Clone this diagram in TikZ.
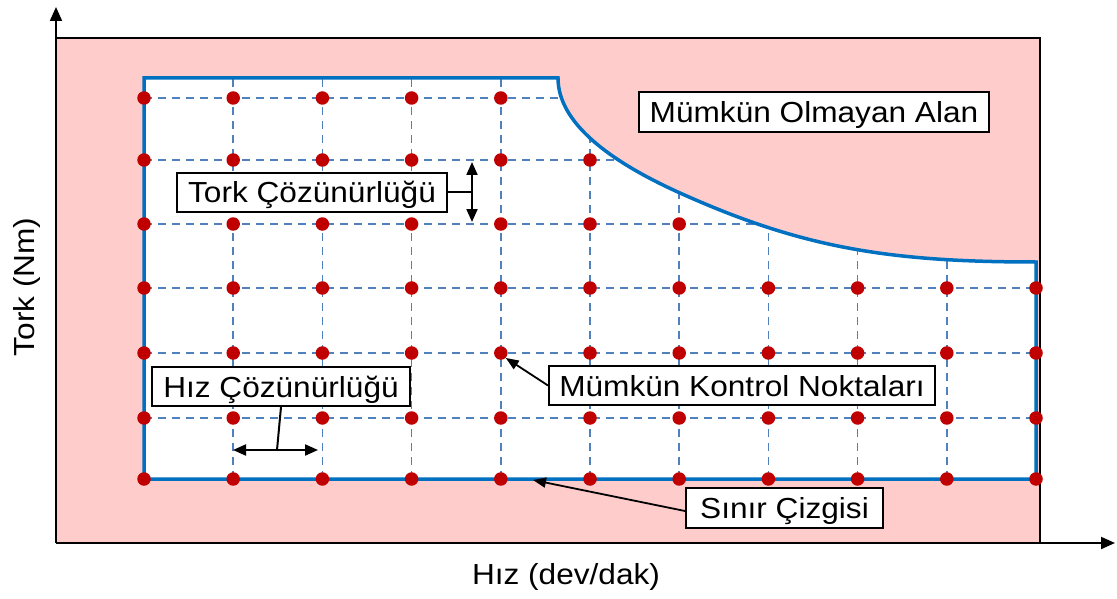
\documentclass[tikz,border=0pt]{standalone}
\usepackage{fontspec}
\setmainfont{Liberation Sans}[FakeStretch=1.09]
\usetikzlibrary{arrows.meta}
\definecolor{pinkbg}{RGB}{255,204,204}
\definecolor{bound}{RGB}{0,112,192}
\definecolor{gridc}{RGB}{79,129,189}
\definecolor{dotc}{RGB}{192,0,0}
\begin{document}
\begin{tikzpicture}[x=1pt,y=-1pt,
  lbl/.style={draw=black, line width=2pt, fill=white, inner sep=0pt, text height=21pt, text depth=0pt, font=\fontsize{29}{34}\selectfont},
  axislbl/.style={inner sep=0pt, font=\fontsize{29}{34}\selectfont},
  axis/.style={line width=2pt, -{Triangle[length=14pt,width=12pt]}},
  gridline/.style={gridc, line width=1.6pt, dash pattern=on 8pt off 6pt},
  bline/.style={bound, line width=3.5pt, line join=miter},
  dot/.style={circle, fill=dotc, inner sep=0pt, minimum size=13.5pt},
  ptr/.style={line width=1.8pt, -{Triangle[length=13pt,width=10pt]}},
  dptr/.style={line width=2pt, {Triangle[length=13pt,width=11pt]}-{Triangle[length=13pt,width=11pt]}}
]
\useasboundingbox (0,0) rectangle (1117,599);
% background region
\fill[pinkbg] (56,38) rectangle (1040,543);
\draw[line width=2pt] (56,38) -- (1040,38) -- (1040,543);
% feasible region
\fill[white] (144,78) -- (558,78) .. controls (558,123) and (610,161.5) .. (680,193) .. controls (800,247) and (886,262) .. (1036,262) -- (1036,479) -- (144,479) -- cycle;
\begin{scope}
\clip (144,78) -- (558,78) .. controls (558,123) and (610,161.5) .. (680,193) .. controls (800,247) and (886,262) .. (1036,262) -- (1036,479) -- (144,479) -- cycle;
\foreach \y in {98,160,224,288,353,418} { \draw[gridline] (144,\y) -- (1036,\y); }
\foreach \c in {1,...,9} { \draw[gridline] ({144+89.2*\c},479) -- ({144+89.2*\c},78); }
\end{scope}
\draw[bline] (144,78) -- (558,78) .. controls (558,123) and (610,161.5) .. (680,193) .. controls (800,247) and (886,262) .. (1036,262) -- (1036,479) -- (144,479) -- cycle;
% axes
\coordinate (O) at (56,543);
\coordinate (ytop) at (56,7);
\coordinate (xend) at (1115,543);
\draw[axis] (O) -- (ytop);
\draw[axis] (O) -- (xend);
% dots
\foreach \r/\y/\n in {0/98/4,1/160/5,2/224/6,3/288/10,4/353/10,5/418/10,6/479/10} {
  \foreach \c in {0,...,\n} { \node[dot] (d\r-\c) at ({144+89.2*\c},\y) {}; }
}
% labels
\node[lbl, minimum width=350pt, minimum height=40pt] (mol) at (814,112) {Mümkün Olmayan Alan};
\node[lbl, minimum width=270pt, minimum height=39pt] (tork) at (312,192.5) {Tork Çözünürlüğü};
\node[lbl, minimum width=258pt, minimum height=39pt] (hiz) at (281,386.5) {Hız Çözünürlüğü};
\node[lbl, minimum width=386pt, minimum height=39pt] (kont) at (742,385.5) {Mümkün Kontrol Noktaları};
\node[lbl, minimum width=197pt, minimum height=40pt] (sinir) at (784.5,508) {Sınır Çizgisi};
\node[axislbl] (xl) at (566,577) {Hız (dev/dak)};
\node[axislbl, rotate=90] (yl) at (27,287) {Tork (Nm)};
% pointers
\coordinate (ta) at (472,162);
\coordinate (tb) at (472,222);
\draw[dptr] (ta) -- (tb);
\draw[line width=2pt] (tork.east) -- (tork.east -| ta);
\coordinate (ha) at (233,450);
\coordinate (hb) at (318,450);
\coordinate (hm) at (277,450);
\draw[dptr] (ha) -- (hb);
\draw[line width=2pt] (hiz.south) -- (hm);
\draw[ptr] (kont.west) -- (d4-4.south east);
\coordinate (stip) at (533,480);
\draw[ptr] ([yshift=-3pt]sinir.west) -- (stip);
\end{tikzpicture}
\end{document}
